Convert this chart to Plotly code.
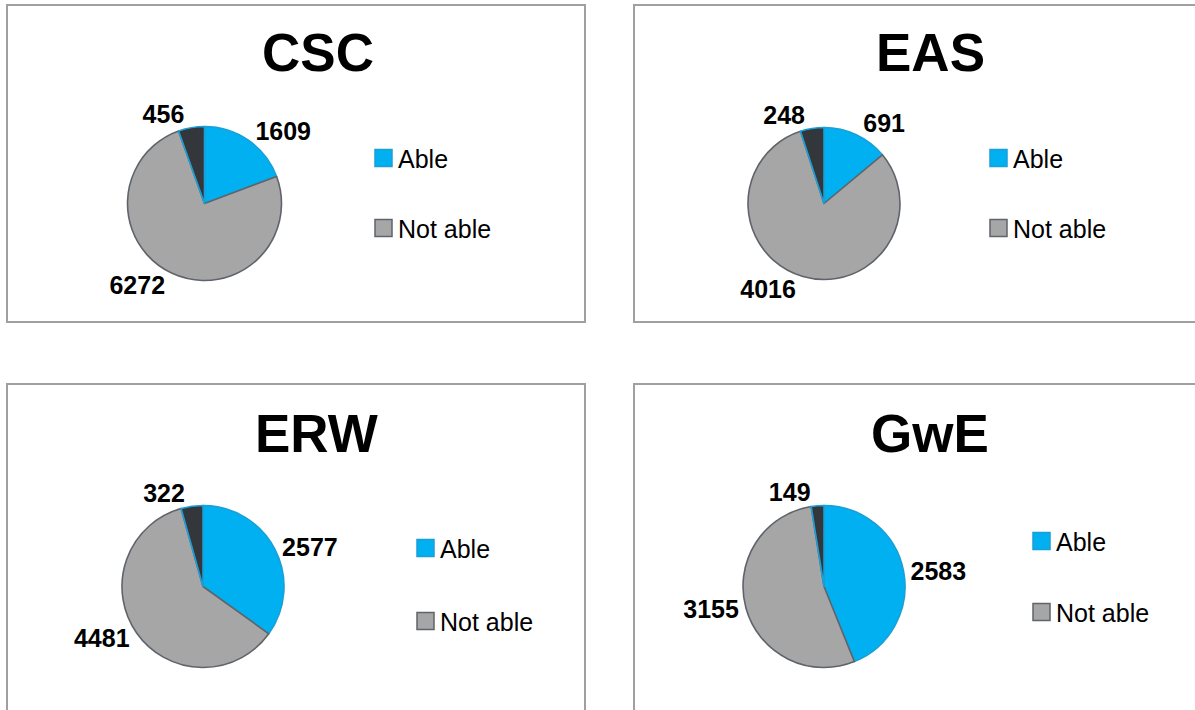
import plotly.graph_objects as go

W, H = 1195, 710

# ---- data ----
titles = ["CSC", "EAS", "ERW", "GwE"]
labels = ["Able", "Not able", "Unknown"]
legend_labels = ["Able", "Not able"]
values_csc = [1609, 6272, 456]
values_eas = [691, 4016, 248]
values_erw = [2577, 4481, 322]
values_gwe = [2583, 3155, 149]
all_values = [values_csc, values_eas, values_erw, values_gwe]

colors = ["#00b0f0", "#a6a6a6", "#33363b"]
line_colors = ["#1a9fd6", "#5f646b", "#1a9fd6"]

# ---- layout helpers (pixel geometry) ----
pie_geom = [(204.5, 203.5, 77), (824, 203.5, 76), (203, 586.5, 81), (824, 586.5, 81)]
title_pos = [(318, 52), (930, 52), (316, 433), (930, 433)]
legend_pos = [(375, 158, 228), (990, 158, 228), (417, 548, 621), (1033, 541, 612)]
boxes = [(7, 5, 585, 322), (634, 5, 1205, 322), (7, 384, 585, 720), (634, 384, 1205, 720)]

def px(x):
    return x / W

def py(y):
    return 1 - y / H

fig = go.Figure()

for i, vals in enumerate(all_values):
    cx, cy, r = pie_geom[i]
    fig.add_trace(go.Pie(
        labels=labels,
        values=vals,
        sort=False,
        direction="clockwise",
        rotation=0,
        marker=dict(colors=colors, line=dict(color=line_colors, width=1.6)),
        texttemplate="<b>%{value}</b>",
        textposition="outside",
        textfont=dict(family="Liberation Sans, Arial", size=25, color="#000000"),
        hoverinfo="label+value",
        domain=dict(x=[px(cx - r), px(cx + r)], y=[py(cy + r), py(cy - r)]),
        showlegend=False,
    ))

shapes = []
annotations = []
for i in range(4):
    x0, y0, x1, y1 = boxes[i]
    shapes.append(dict(type="rect", xref="paper", yref="paper",
                       x0=px(x0), x1=px(x1), y0=py(y1), y1=py(y0),
                       line=dict(color="#a0a0a0", width=2), fillcolor="rgba(0,0,0,0)"))
    tx, ty = title_pos[i]
    annotations.append(dict(text="<b>%s</b>" % titles[i], xref="paper", yref="paper",
                            x=px(tx), y=py(ty), showarrow=False,
                            xanchor="center", yanchor="middle",
                            font=dict(family="Liberation Sans, Arial", size=53, color="#000000")))
    lx, ly1, ly2 = legend_pos[i]
    for j, ly in enumerate([ly1, ly2]):
        s = 17
        shapes.append(dict(type="rect", xref="paper", yref="paper",
                           x0=px(lx), x1=px(lx + s), y0=py(ly + s / 2), y1=py(ly - s / 2),
                           fillcolor=colors[j], line=dict(color=line_colors[j], width=1.5)))
        annotations.append(dict(text=legend_labels[j], xref="paper", yref="paper",
                                x=px(lx + s + 4), y=py(ly + 1), showarrow=False,
                                xanchor="left", yanchor="middle",
                                font=dict(family="Liberation Sans, Arial", size=25, color="#000000")))

fig.update_layout(
    width=W, height=H,
    margin=dict(l=0, r=0, t=0, b=0),
    paper_bgcolor="white", plot_bgcolor="white",
    shapes=shapes, annotations=annotations,
    showlegend=False,
)

fig.write_html("out.html",
               config={"displayModeBar": False},
               post_script="document.body.style.margin='0';document.body.style.overflow='hidden';")
